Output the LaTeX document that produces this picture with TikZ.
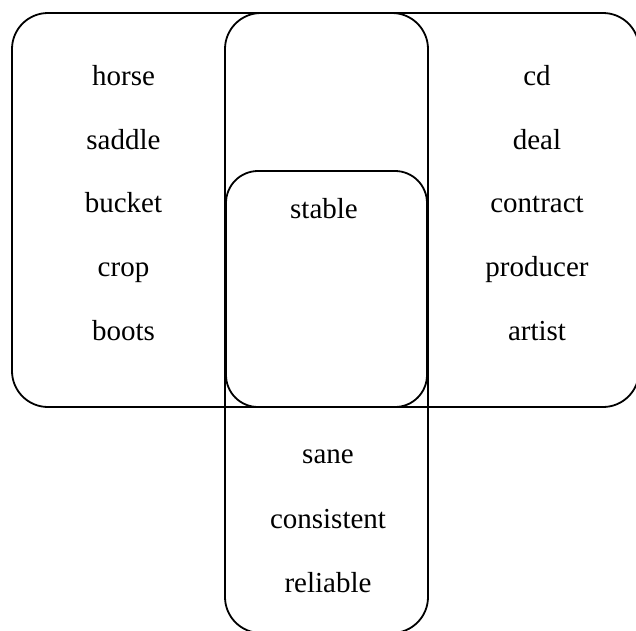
\documentclass[tikz,border=0pt]{standalone}
\usepackage{fontspec}
\setmainfont{Liberation Serif}

\begin{document}
\begin{tikzpicture}[x=1pt,y=-1pt,line width=1.8pt,
  every node/.style={font=\fontsize{29}{35}\selectfont,anchor=base}]
\useasboundingbox (0,0) rectangle (636,630);

\draw[rounded corners=36pt] (12,13) rectangle (639,407);
\draw[rounded corners=36pt] (225,13) rectangle (428,633);
\draw[rounded corners=32pt] (226,171) rectangle (427,407);

\node (horse) at (123.5,85) {horse};
\node (saddle) at (123.5,149) {saddle};
\node (bucket) at (123.5,212) {bucket};
\node (crop) at (123.5,276) {crop};
\node (boots) at (123.5,340) {boots};

\node (cd) at (537,85) {cd};
\node (deal) at (537,149) {deal};
\node (contract) at (537,212) {contract};
\node (producer) at (537,276) {producer};
\node (artist) at (537,340) {artist};

\node (stable) at (324,218) {stable};

\node (sane) at (328,463) {sane};
\node (consistent) at (328,528) {consistent};
\node (reliable) at (328,592) {reliable};
\end{tikzpicture}
\end{document}
